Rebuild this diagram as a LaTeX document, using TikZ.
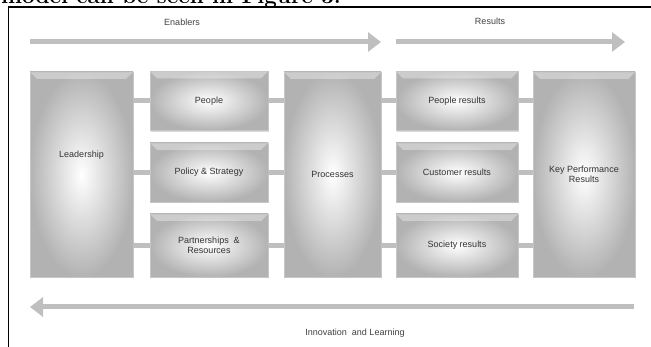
\documentclass[tikz,border=0pt]{standalone}
\usepackage{fontspec}
\usepackage{tikz}
\usetikzlibrary{arrows.meta,shadows}
\newfontfamily\labelfont{Liberation Sans}

\begin{document}
\begin{tikzpicture}[x=1pt,y=-1pt,
    box/.style={rectangle, inner color=white, outer color=gray!60, draw=gray!45, line width=0.3pt,
      font=\labelfont\fontsize{9}{10.5}\selectfont, text=black!80, align=center,
      drop shadow={opacity=0.3,shadow xshift=1pt,shadow yshift=-1.5pt},
      path picture={\fill[white,opacity=0.35] (path picture bounding box.north west) -- (path picture bounding box.north east)
        -- ([shift={(-7pt,-7pt)}]path picture bounding box.north east) -- ([shift={(7pt,-7pt)}]path picture bounding box.north west) -- cycle;}},
    bigbox/.style={box, minimum width=101pt, minimum height=205pt},
    smallbox/.style={box, minimum width=120pt, minimum height=59pt},
    link/.style={gray!50, line width=5pt},
    flow/.style={gray!50, line width=5pt, -{Triangle[length=13pt,width=19pt]}},
    caption/.style={font=\labelfont\fontsize{9}{10.5}\selectfont, text=black!75}]

    \useasboundingbox (0,0) rectangle (651,347);
    \clip (0,0) rectangle (651,347);

    % draw page text and frame
    \node[anchor=base west, inner sep=0pt, font=\fontsize{22.4}{22.4}\bfseries] (pageText) at (1,3.8) {model can be seen in Figure 3.};
    \draw[line width=1.6pt] (8,7) -- (651,7);
    \draw[line width=1.4pt] (8.5,7) -- (8.5,347);

    % draw headings
    \node[caption] (enablers) at (182,22) {Enablers};
    \node[caption] (results) at (490,21) {Results};
    \node[caption] (innovation) at (355,333) {Innovation \ and Learning};

    % draw arrows
    \coordinate (enablersStart) at (30,42);
    \coordinate (enablersEnd) at (381,42);
    \coordinate (resultsStart) at (396,42);
    \coordinate (resultsEnd) at (625,42);
    \coordinate (learningStart) at (634,307);
    \coordinate (learningEnd) at (30,307);
    \draw[flow] (enablersStart) -- (enablersEnd);
    \draw[flow] (resultsStart) -- (resultsEnd);
    \draw[flow] (learningStart) -- (learningEnd);

    % draw big boxes
    \node[bigbox, minimum width=103pt, label={[caption, text=black!80, yshift=19pt]center:Leadership}] (leadership) at (81.5,174.5) {};
    \node[bigbox, minimum width=97pt] (processes) at (332.5,174.5) {Processes};
    \node[bigbox, minimum width=102pt] (keyResults) at (584,174.5) {Key Performance\\Results};

    % draw enabler boxes
    \node[smallbox, minimum width=118pt] (people) at (209,101) {People};
    \node[smallbox, minimum width=118pt] (policy) at (209,172.5) {Policy \& Strategy};
    \node[smallbox, minimum width=118pt, minimum height=63pt] (partnerships) at (209,245.5) {Partnerships \ \&\\Resources};

    % draw result boxes
    \node[smallbox, minimum width=122pt] (peopleResults) at (457,101) {People results};
    \node[smallbox, minimum width=122pt] (customerResults) at (457,172.5) {Customer results};
    \node[smallbox, minimum width=122pt, minimum height=63pt] (societyResults) at (457,245.5) {Society results};

    % draw links
    \foreach \b in {people,policy,partnerships}
      \draw[link] (leadership.east |- \b.west) -- (\b.west)
                  (\b.east) -- (processes.west |- \b.east);
    \foreach \b in {peopleResults,customerResults,societyResults}
      \draw[link] (processes.east |- \b.west) -- (\b.west)
                  (\b.east) -- (keyResults.west |- \b.east);
\end{tikzpicture}
\end{document}
